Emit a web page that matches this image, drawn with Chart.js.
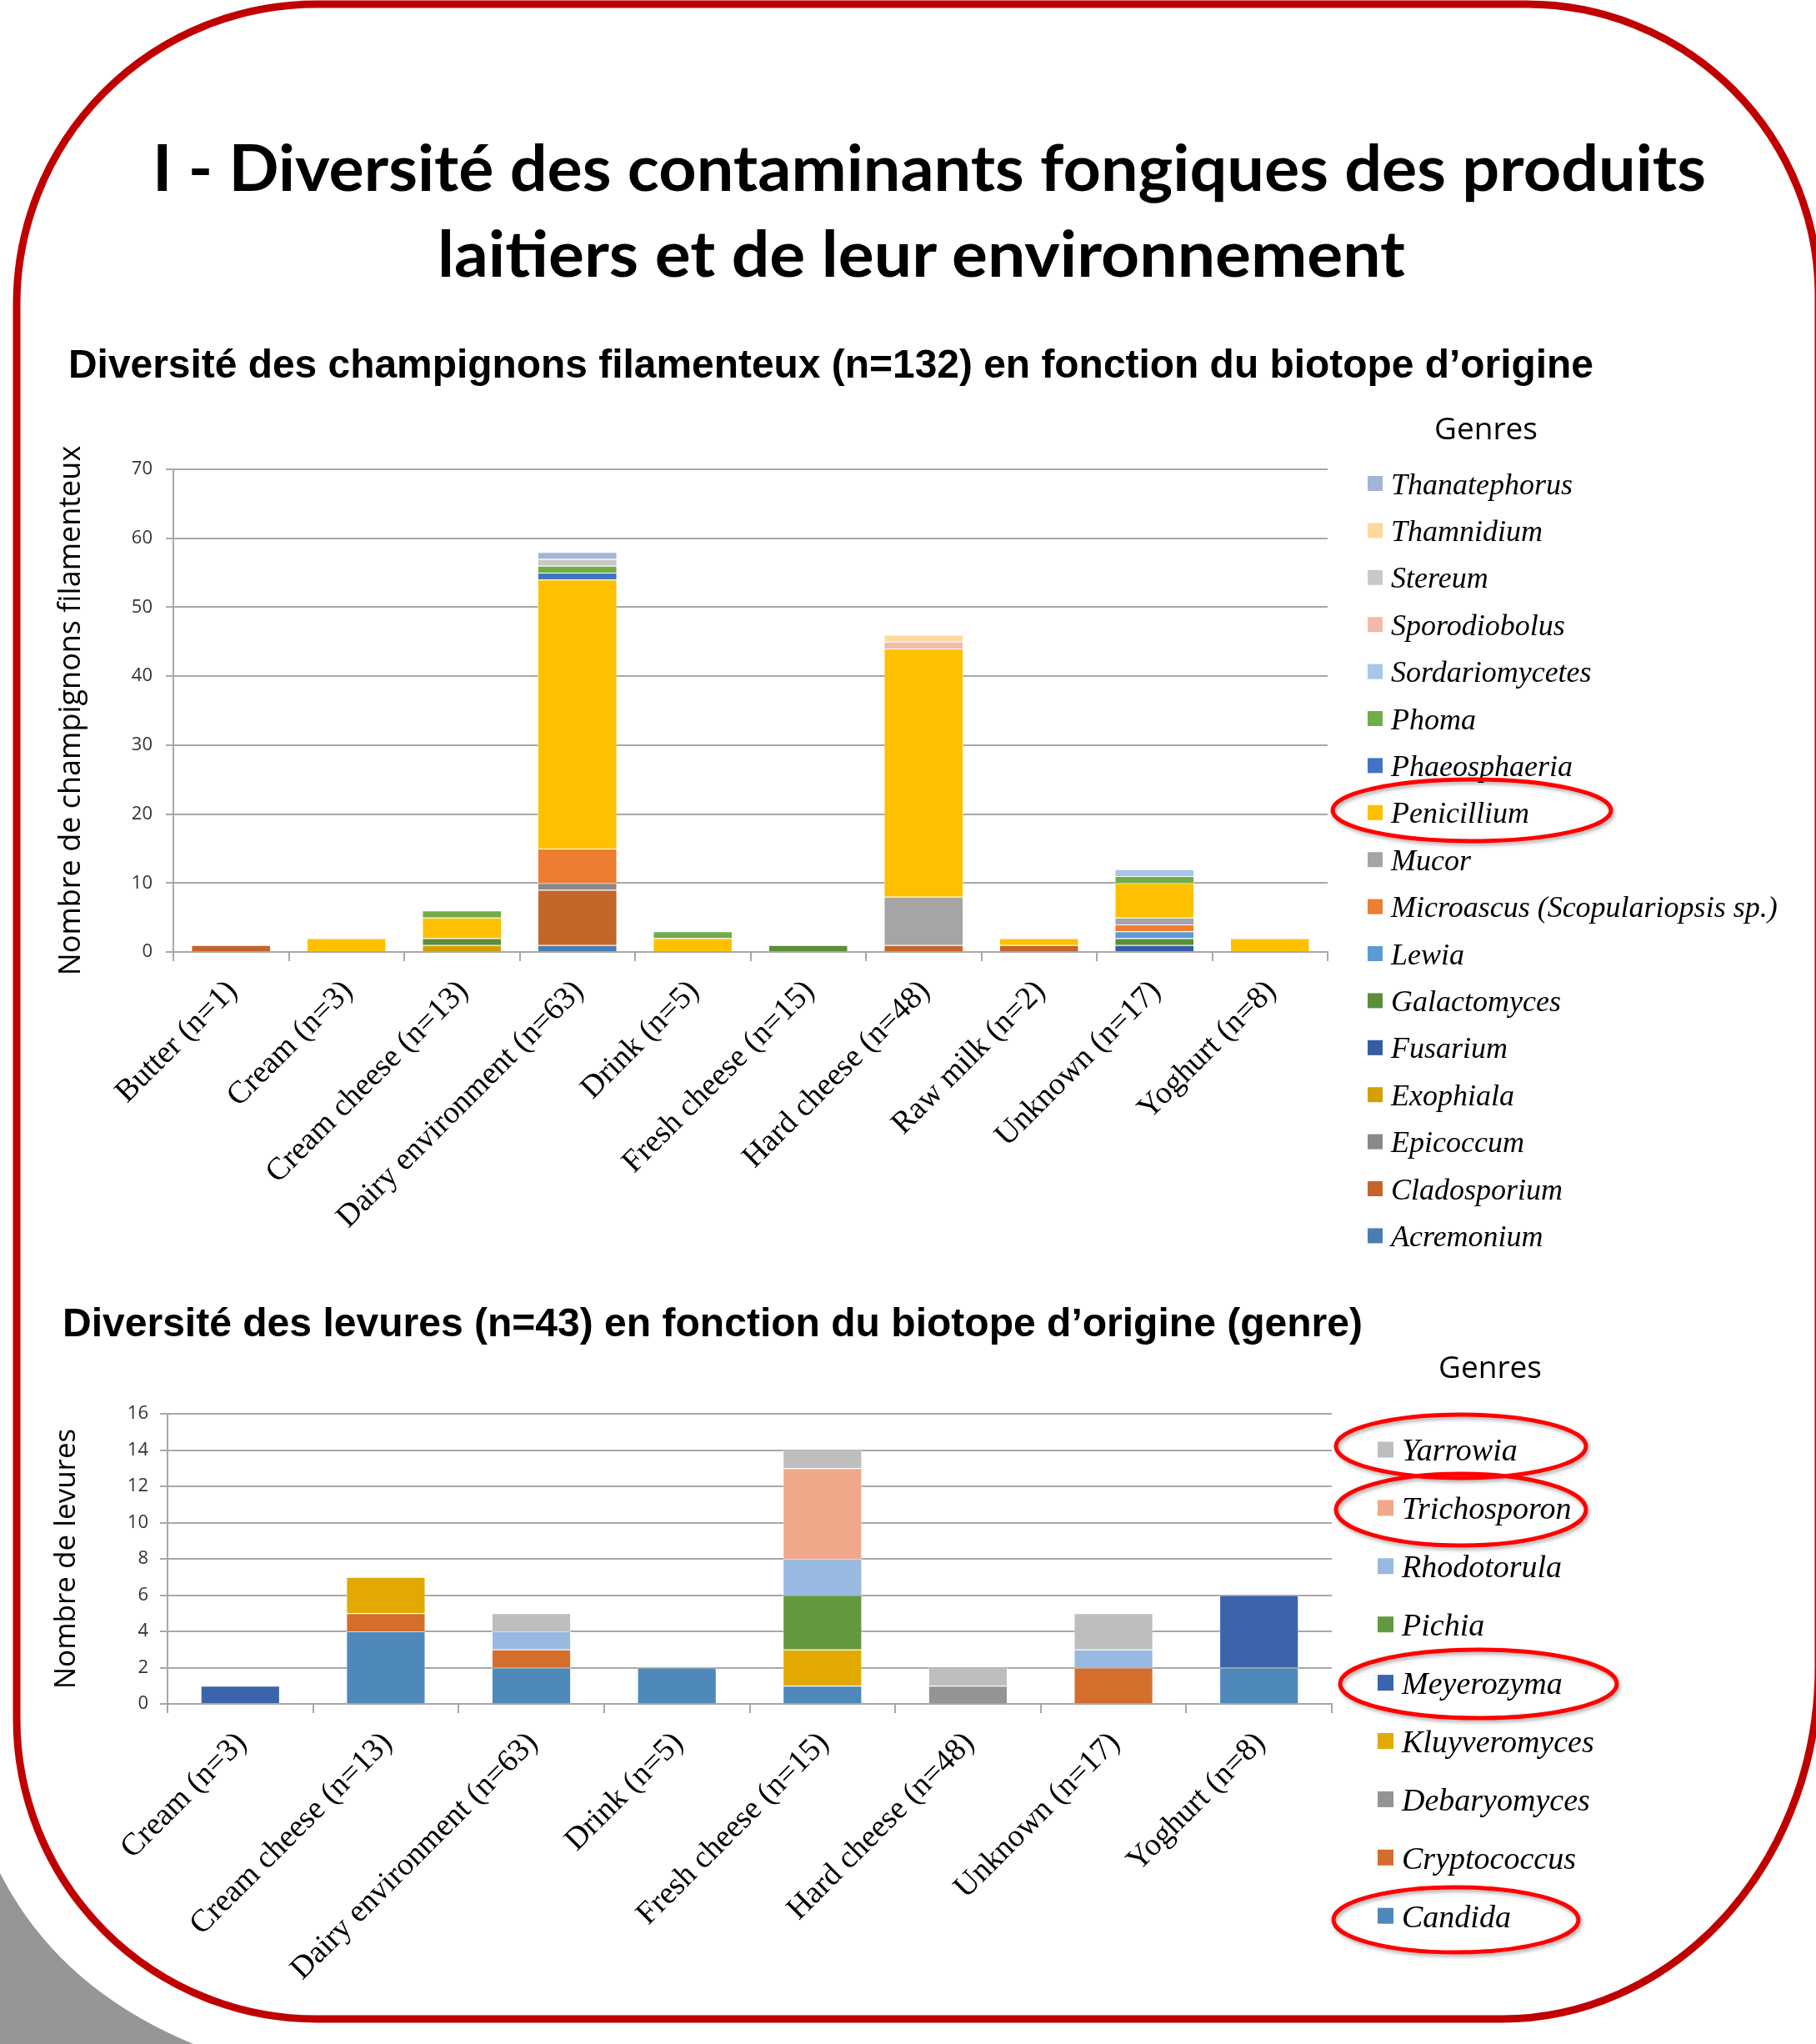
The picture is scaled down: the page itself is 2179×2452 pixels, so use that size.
<!DOCTYPE html>
<html>
<head>
<meta charset="utf-8">
<script src="https://cdn.jsdelivr.net/npm/chart.js@4.4.1/dist/chart.umd.min.js"></script>
<style>
  html, body { margin: 0; padding: 0; background: #fff; }
  body { width: 2179px; height: 2452px; position: relative; overflow: hidden; }
  canvas { position: absolute; left: 0; }
  #moldChart { top: 520px; }
  #yeastChart { top: 1660px; }
  #overlay { position: absolute; left: 0; top: 0; pointer-events: none; }
  .serif { font-family: 'Liberation Serif', 'Times New Roman', serif; font-style: italic; }
</style>
</head>
<body>
<canvas id="moldChart" width="1600" height="980"></canvas>
<canvas id="yeastChart" width="1605" height="790"></canvas>

<svg id="overlay" width="2179" height="2452" xmlns="http://www.w3.org/2000/svg">
  <defs>
    <filter id="shadow" x="-10%" y="-30%" width="120%" height="160%">
      <feDropShadow dx="2" dy="3" stdDeviation="2" flood-color="#000" flood-opacity="0.3"/>
    </filter>
  </defs>

  <!-- slide frame -->
  <path d="M0,2247 Q70,2385 232,2452 L0,2452 Z" fill="#969696"/>
  <path d="M380,5 L1832,5 A350,350 0 0 1 2182,355 L2182,2000 A380,422 0 0 1 1802,2422 L380,2422 A360,360 0 0 1 20,2062 L20,365 A360,360 0 0 1 380,5 Z"
        fill="none" stroke="#C00000" stroke-width="9"/>

  <!-- titles -->
  <g font-family="Lato, sans-serif" font-weight="700" font-size="77" fill="#000">
    <text x="183" y="229" textLength="1864" lengthAdjust="spacingAndGlyphs">I - Diversité des contaminants fongiques des produits</text>
    <text x="525" y="332" textLength="1161" lengthAdjust="spacingAndGlyphs">laitiers et de leur environnement</text>
  </g>
  <g font-family="'Liberation Sans', Arial, sans-serif" font-weight="700" font-size="49" fill="#000">
    <text x="82" y="453" textLength="1830" lengthAdjust="spacingAndGlyphs">Diversité des champignons filamenteux (n=132) en fonction du biotope d’origine</text>
    <text x="75" y="1603" textLength="1560" lengthAdjust="spacingAndGlyphs">Diversité des levures (n=43) en fonction du biotope d’origine (genre)</text>
  </g>
  <g font-family="'Open Sans', sans-serif" font-size="37" fill="#000" text-anchor="middle">
    <text x="1783" y="527">Genres</text>
    <text x="1788" y="1653">Genres</text>
  </g>

  <g id="moldLegend"></g>
  <g id="yeastLegend"></g>

  <!-- red highlight ellipses -->
  <g fill="none" stroke="#FF0000" stroke-width="5" filter="url(#shadow)">
    <ellipse cx="1766" cy="972" rx="167" ry="37"/>
    <ellipse cx="1753" cy="1735" rx="150" ry="38"/>
    <ellipse cx="1753" cy="1811" rx="150" ry="43"/>
    <ellipse cx="1774" cy="2020" rx="166" ry="41"/>
    <ellipse cx="1747" cy="2303" rx="147" ry="39"/>
  </g>
</svg>

<script>
// ---- filamentous fungi (top chart) ----
const moldSources = ['Butter (n=1)', 'Cream (n=3)', 'Cream cheese (n=13)', 'Dairy environment (n=63)', 'Drink (n=5)',
  'Fresh cheese (n=15)', 'Hard cheese (n=48)', 'Raw milk (n=2)', 'Unknown (n=17)', 'Yoghurt (n=8)'];
const moldGenera = ['Acremonium', 'Cladosporium', 'Epicoccum', 'Exophiala', 'Fusarium', 'Galactomyces', 'Lewia',
  'Microascus (Scopulariopsis sp.)', 'Mucor', 'Penicillium', 'Phaeosphaeria', 'Phoma', 'Sordariomycetes',
  'Sporodiobolus', 'Stereum', 'Thamnidium', 'Thanatephorus'];
const moldColors = ['#4A7EB2', '#C4652A', '#888888', '#D4A000', '#345DA3', '#5B8E3A', '#5B9BD5', '#ED7D31', '#A5A5A5',
  '#FFC000', '#4472C4', '#70AD47', '#A9C5E8', '#F4B9A8', '#C9C9C9', '#FFD89B', '#A5B3D9'];

const acremonium      = [0, 0, 0, 1, 0, 0, 0, 0, 0, 0];
const cladosporium    = [1, 0, 0, 8, 0, 0, 1, 1, 0, 0];
const epicoccum       = [0, 0, 0, 1, 0, 0, 0, 0, 0, 0];
const exophiala       = [0, 0, 1, 0, 0, 0, 0, 0, 0, 0];
const fusarium        = [0, 0, 0, 0, 0, 0, 0, 0, 1, 0];
const galactomyces    = [0, 0, 1, 0, 0, 1, 0, 0, 1, 0];
const lewia           = [0, 0, 0, 0, 0, 0, 0, 0, 1, 0];
const microascus      = [0, 0, 0, 5, 0, 0, 0, 0, 1, 0];
const mucor           = [0, 0, 0, 0, 0, 0, 7, 0, 1, 0];
const penicillium     = [0, 2, 3, 39, 2, 0, 36, 1, 5, 2];
const phaeosphaeria   = [0, 0, 0, 1, 0, 0, 0, 0, 0, 0];
const phoma           = [0, 0, 1, 1, 1, 0, 0, 0, 1, 0];
const sordariomycetes = [0, 0, 0, 0, 0, 0, 0, 0, 1, 0];
const sporodiobolus   = [0, 0, 0, 0, 0, 0, 1, 0, 0, 0];
const stereum         = [0, 0, 0, 1, 0, 0, 0, 0, 0, 0];
const thamnidium      = [0, 0, 0, 0, 0, 0, 1, 0, 0, 0];
const thanatephorus   = [0, 0, 0, 1, 0, 0, 0, 0, 0, 0];

// ---- yeasts (bottom chart) ----
const yeastSources = ['Cream (n=3)', 'Cream cheese (n=13)', 'Dairy environment (n=63)', 'Drink (n=5)',
  'Fresh cheese (n=15)', 'Hard cheese (n=48)', 'Unknown (n=17)', 'Yoghurt (n=8)'];
const yeastGenera = ['Candida', 'Cryptococcus', 'Debaryomyces', 'Kluyveromyces', 'Meyerozyma', 'Pichia',
  'Rhodotorula', 'Trichosporon', 'Yarrowia'];
const yeastColors = ['#4F88BB', '#D36E2C', '#949494', '#E2AA00', '#3C64AC', '#62993E', '#98B9E0', '#F1A88A', '#BEBEBE'];

const candida       = [0, 4, 2, 2, 1, 0, 0, 2];
const cryptococcus  = [0, 1, 1, 0, 0, 0, 2, 0];
const debaryomyces  = [0, 0, 0, 0, 0, 1, 0, 0];
const kluyveromyces = [0, 2, 0, 0, 2, 0, 0, 0];
const meyerozyma    = [1, 0, 0, 0, 0, 0, 0, 4];
const pichia        = [0, 0, 0, 0, 3, 0, 0, 0];
const rhodotorula   = [0, 0, 1, 0, 2, 0, 1, 0];
const trichosporon  = [0, 0, 0, 0, 5, 0, 0, 0];
const yarrowia      = [0, 0, 1, 0, 1, 1, 2, 0];

const moldSeries = [acremonium, cladosporium, epicoccum, exophiala, fusarium, galactomyces, lewia, microascus, mucor,
  penicillium, phaeosphaeria, phoma, sordariomycetes, sporodiobolus, stereum, thamnidium, thanatephorus];
const yeastSeries = [candida, cryptococcus, debaryomyces, kluyveromyces, meyerozyma, pichia, rhodotorula, trichosporon, yarrowia];

const gridColor = '#a8a8a8';

function stackedBars(id, labels, names, series, colors, o) {
  return new Chart(document.getElementById(id), {
    type: 'bar',
    data: {
      labels: labels,
      datasets: names.map((n, i) => ({
        label: n,
        data: series[i].map(v => v === 0 ? null : v),
        backgroundColor: colors[i],
        borderColor: 'rgba(255,255,255,0.55)',
        borderWidth: 1,
        barPercentage: o.barPct,
        categoryPercentage: 1
      }))
    },
    options: {
      responsive: false,
      animation: false,
      layout: { padding: { top: o.padTop, right: 7, left: 0, bottom: 0 } },
      plugins: { legend: { display: false }, tooltip: { enabled: false } },
      scales: {
        x: {
          stacked: true,
          afterFit: s => { s.height = o.xHeight; },
          grid: { offset: true, drawOnChartArea: false, drawTicks: true, tickLength: 11, color: gridColor, lineWidth: 2 },
          border: { color: gridColor, width: 2 },
          ticks: {
            autoSkip: false, minRotation: 45, maxRotation: 45,
            padding: 14, labelOffset: o.labelShift, color: '#000',
            font: { family: 'Liberation Serif', size: 38 }
          }
        },
        y: {
          stacked: true, min: 0, max: o.yMax,
          afterFit: s => { s.width = o.yWidth; },
          grid: { color: gridColor, lineWidth: 2, tickLength: 9 },
          border: { color: gridColor, width: 2 },
          ticks: { stepSize: o.yStep, padding: o.tickPad, color: '#333', font: { family: 'Open Sans', size: 22 } },
          title: {
            display: true, text: o.yTitle, color: '#000',
            font: { family: 'Open Sans', size: o.titleSize },
            padding: { top: o.titlePad, bottom: 0 }
          }
        }
      }
    }
  });
}

stackedBars('moldChart', moldSources, moldGenera, moldSeries, moldColors, {
  barPct: 0.69, padTop: 43, xHeight: 358, yWidth: 208, yMax: 70, yStep: 10, tickPad: 16,
  labelShift: 2, yTitle: 'Nombre de champignons filamenteux', titleSize: 36, titlePad: 64
});

stackedBars('yeastChart', yeastSources, yeastGenera, yeastSeries, yeastColors, {
  barPct: 0.545, padTop: 36, xHeight: 406, yWidth: 201, yMax: 16, yStep: 2, tickPad: 14,
  labelShift: 2, yTitle: 'Nombre de levures', titleSize: 35, titlePad: 59
});

// legends, listed top to bottom in reverse series order like the original
const svgNS = 'http://www.w3.org/2000/svg';
function drawLegend(groupId, names, colors, x0, yFirst, step, box, gap, size) {
  const g = document.getElementById(groupId);
  for (let i = names.length - 1, row = 0; i >= 0; i--, row++) {
    const cy = yFirst + row * step;
    const r = document.createElementNS(svgNS, 'rect');
    r.setAttribute('x', x0);
    r.setAttribute('y', cy - box / 2);
    r.setAttribute('width', box);
    r.setAttribute('height', box);
    r.setAttribute('fill', colors[i]);
    g.appendChild(r);
    const t = document.createElementNS(svgNS, 'text');
    t.setAttribute('x', x0 + box + gap);
    t.setAttribute('y', cy + size * 0.35);
    t.setAttribute('font-size', size);
    t.setAttribute('class', 'serif');
    t.setAttribute('fill', '#000');
    t.textContent = names[i];
    g.appendChild(t);
  }
}
drawLegend('moldLegend', moldGenera, moldColors, 1641, 580, 56.4, 18, 10, 36);
drawLegend('yeastLegend', yeastGenera, yeastColors, 1653, 1739, 69.9, 19, 10, 38);
</script>
</body>
</html>
